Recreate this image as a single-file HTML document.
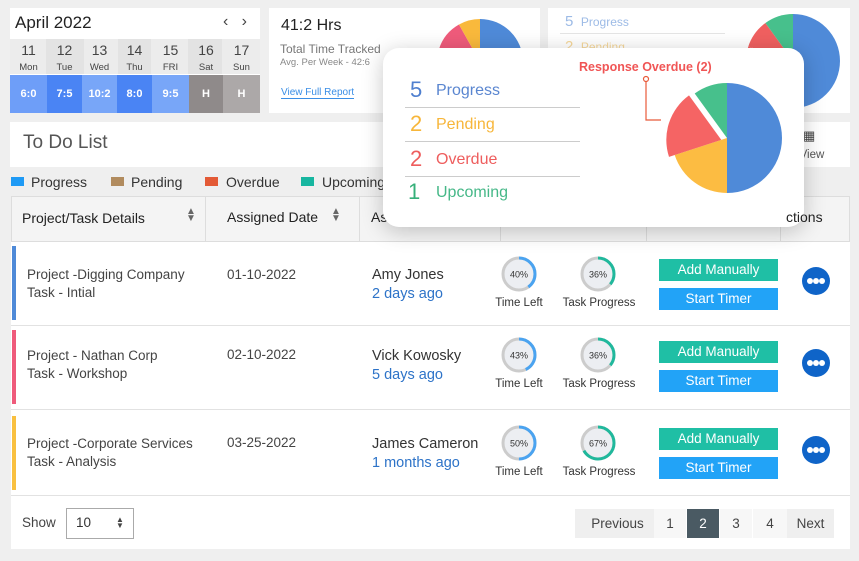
<!DOCTYPE html>
<html><head><meta charset="utf-8"><style>
*{box-sizing:border-box;margin:0;padding:0}
body{width:859px;height:561px;background:#efefef;font-family:"Liberation Sans",sans-serif;position:relative;overflow:hidden;color:#333}
.a{position:absolute}
.card{position:absolute;background:#fff}
.cell{position:absolute;text-align:center}
.btn{position:absolute;width:119px;height:22px;color:#fff;font-size:13.5px;text-align:center;line-height:22px}
.g{background:#1fbfa5}.b{background:#22a3f7}
.dots{position:absolute;width:28px;height:28px;border-radius:50%;background:#0f64c8}
.dots i{position:absolute;top:11px;width:6px;height:6px;border-radius:50%;background:#fff}
.lbl{position:absolute;font-size:11.5px;color:#333;text-align:center}
.row{position:absolute;left:11px;width:839px;border-bottom:1px solid #e2e2e2;background:#fff}
.t{font-size:13.5px;color:#444;line-height:18px}
</style></head><body>
<div class="card" style="left:10px;top:8px;width:250px;height:105px"></div>
<div class="a" style="left:15px;top:13px;font-size:17px;color:#222">April 2022</div>
<div class="a" style="left:223px;top:13px;font-size:16px;color:#444">‹&nbsp;&nbsp;&nbsp;›</div>
<div class="a" style="left:10px;top:39px;width:250px;height:35px;background:#ececec"></div>
<div class="a" style="left:46px;top:39px;width:38px;height:35px;background:#e3e3e3"></div>
<div class="a" style="left:118px;top:39px;width:33px;height:35px;background:#e3e3e3"></div>
<div class="a" style="left:188px;top:39px;width:34px;height:35px;background:#e3e3e3"></div>
<div id="days"></div>
<div class="card" style="left:269px;top:8px;width:271px;height:105px"></div>
<div class="a" style="left:281px;top:17px;font-size:16px;color:#222">41:2 Hrs</div>
<div class="a" style="left:280px;top:42px;font-size:12px;color:#777">Total Time Tracked</div>
<div class="a" style="left:280px;top:57px;font-size:9.5px;color:#888">Avg. Per Week - 42:6</div>
<div class="a" style="left:281px;top:87px;font-size:10px;color:#3a8ee6;border-bottom:1px solid #3a8ee6">View Full Report</div>
<svg class="a" style="left:430px;top:12px" width="100" height="100" viewBox="-50 -50 100 100">
<path d="M0 0 L0 -43 A43 43 0 0 1 0 43Z" fill="#4f8ad8"/>
<path d="M0 0 L0 43 A43 43 0 0 1 -41 -13Z" fill="#ef5b7b"/>
<path d="M0 0 L-41 -13 A43 43 0 0 1 -21 -37.5Z" fill="#ef5b7b"/>
<path d="M0 0 L-21 -37.5 A43 43 0 0 1 0 -43Z" fill="#f9b93c"/>
</svg>
<div class="card" style="left:548px;top:8px;width:302px;height:105px"></div>
<div class="a" style="left:565px;top:13px;font-size:15px;color:#9dbbe6">5 <span style="font-size:12px">&nbsp;Progress</span></div>
<div class="a" style="left:560px;top:33px;width:165px;border-top:1px solid #e5e5e5"></div>
<div class="a" style="left:565px;top:38px;font-size:15px;color:#f5d79a">2 <span style="font-size:12px">&nbsp;Pending</span></div>
<svg class="a" style="left:745px;top:13px" width="96" height="96" viewBox="-48 -48 96 96">
<path d="M0 0 L0 -47 A47 47 0 0 1 0 47Z" fill="#4f8ad8"/>
<path d="M0 0 L0 47 A47 47 0 0 1 -44.7 -14.5Z" fill="#f06060"/>
<path d="M0 0 L-44.7 -14.5 A47 47 0 0 1 -27.6 -38Z" fill="#f06060"/>
<path d="M0 0 L-27.6 -38 A47 47 0 0 1 0 -47Z" fill="#47c08c"/>
</svg>
<div class="card" style="left:10px;top:122px;width:840px;height:45px"></div>
<div class="a" style="left:23px;top:132px;font-size:19px;color:#555">To Do List</div>
<div class="a" style="left:803px;top:128px;font-size:13px;color:#444">▦</div>
<div class="a" style="left:790px;top:149px;font-size:11.5px;color:#555">n View</div>
<div class="a" style="left:11px;top:177px;width:13px;height:9px;background:#1e9af5"></div>
<div class="a" style="left:31px;top:174px;font-size:14px;color:#333">Progress</div>
<div class="a" style="left:111px;top:177px;width:13px;height:9px;background:#b18b5e"></div>
<div class="a" style="left:131px;top:174px;font-size:14px;color:#333">Pending</div>
<div class="a" style="left:205px;top:177px;width:13px;height:9px;background:#e35a36"></div>
<div class="a" style="left:226px;top:174px;font-size:14px;color:#333">Overdue</div>
<div class="a" style="left:301px;top:177px;width:13px;height:9px;background:#17b6a0"></div>
<div class="a" style="left:322px;top:174px;font-size:14px;color:#333">Upcoming</div>
<div class="a" style="left:11px;top:196px;width:839px;height:46px;background:#f4f4f4;border:1px solid #ddd"></div>
<div class="a" style="left:205px;top:196px;height:46px;border-left:1px solid #ddd"></div>
<div class="a" style="left:359px;top:196px;height:46px;border-left:1px solid #ddd"></div>
<div class="a" style="left:500px;top:196px;height:46px;border-left:1px solid #ddd"></div>
<div class="a" style="left:646px;top:196px;height:46px;border-left:1px solid #ddd"></div>
<div class="a" style="left:780px;top:196px;height:46px;border-left:1px solid #ddd"></div>
<div class="a" style="left:22px;top:210px;font-size:14px;color:#222">Project/Task Details</div>
<div class="a" style="left:186px;top:208px;font-size:10px;color:#666;line-height:7px">▲<br>▼</div>
<div class="a" style="left:227px;top:209px;font-size:14px;color:#222">Assigned Date</div>
<div class="a" style="left:331px;top:208px;font-size:10px;color:#666;line-height:7px">▲<br>▼</div>
<div class="a" style="left:371px;top:209px;font-size:14px;color:#222">As</div>
<div class="row" style="top:242px;height:84px"></div>
<div class="row" style="top:326px;height:84px"></div>
<div class="row" style="top:410px;height:86px"></div>
<div class="a" style="left:11px;top:496px;width:839px;height:53px;background:#fff"></div>
<div class="a" style="left:12px;top:246px;width:4px;height:74px;background:#4f8ad8"></div>
<div class="a" style="left:12px;top:330px;width:4px;height:74px;background:#ef5b7b"></div>
<div class="a" style="left:12px;top:416px;width:4px;height:74px;background:#f9c040"></div>
<div class="a t" style="left:27px;top:266px">Project -Digging Company<br>Task - Intial</div>
<div class="a t" style="left:227px;top:266px">01-10-2022</div>
<div class="a" style="left:372px;top:266px;font-size:14.5px;color:#333;line-height:19px">Amy Jones<br><span style="color:#2d73c8">2 days ago</span></div>
<div class="a t" style="left:27px;top:347px">Project - Nathan Corp<br>Task - Workshop</div>
<div class="a t" style="left:227px;top:346px">02-10-2022</div>
<div class="a" style="left:372px;top:347px;font-size:14.5px;color:#333;line-height:19px">Vick Kowosky<br><span style="color:#2d73c8">5 days ago</span></div>
<div class="a t" style="left:27px;top:435px">Project -Corporate Services<br>Task - Analysis</div>
<div class="a t" style="left:227px;top:434px">03-25-2022</div>
<div class="a" style="left:372px;top:435px;font-size:14.5px;color:#333;line-height:19px">James Cameron<br><span style="color:#2d73c8">1 months ago</span></div>
<div id="rings"></div>
<div class="a" style="left:22px;top:515px;font-size:13.5px;color:#444">Show</div>
<div class="a" style="left:66px;top:508px;width:68px;height:31px;border:1px solid #aaa;background:#fff"></div>
<div class="a" style="left:76px;top:515px;font-size:13.5px;color:#333">10</div>
<div class="a" style="left:116px;top:517px;font-size:8px;color:#444;line-height:6px">▲<br>▼</div>
<div class="a" style="left:575px;top:509px;width:85px;height:29px;background:#efefef;font-size:13.5px;color:#444;text-align:center;line-height:29px">Previous</div>
<div class="a" style="left:654px;top:509px;width:32px;height:29px;background:#f7f7f7;font-size:13.5px;color:#444;text-align:center;line-height:29px">1</div>
<div class="a" style="left:687px;top:509px;width:32px;height:29px;background:#4a5a63;font-size:13.5px;color:#fff;text-align:center;line-height:29px">2</div>
<div class="a" style="left:720px;top:509px;width:32px;height:29px;background:#f7f7f7;font-size:13.5px;color:#444;text-align:center;line-height:29px">3</div>
<div class="a" style="left:753px;top:509px;width:34px;height:29px;background:#f7f7f7;font-size:13.5px;color:#444;text-align:center;line-height:29px">4</div>
<div class="a" style="left:787px;top:509px;width:47px;height:29px;background:#efefef;font-size:13.5px;color:#444;text-align:center;line-height:29px">Next</div>
<div class="a" style="left:383px;top:48px;width:421px;height:179px;background:#fff;border-radius:16px;box-shadow:0 4px 22px rgba(0,0,0,.22)"></div>
<div class="a" style="left:786px;top:209px;font-size:14px;color:#222;z-index:5">ctions</div>
<div class="a" style="left:410px;top:77px;font-size:22px;color:#4f7fcf">5</div>
<div class="a" style="left:436px;top:82px;font-size:16px;color:#5a86d0">Progress</div>
<div class="a" style="left:405px;top:107px;width:175px;border-top:1px solid #ccc"></div>
<div class="a" style="left:410px;top:111px;font-size:22px;color:#f7b63a">2</div>
<div class="a" style="left:436px;top:116px;font-size:16px;color:#f7b63a">Pending</div>
<div class="a" style="left:405px;top:141px;width:175px;border-top:1px solid #ccc"></div>
<div class="a" style="left:410px;top:146px;font-size:22px;color:#ee5d5d">2</div>
<div class="a" style="left:436px;top:151px;font-size:16px;color:#ee5d5d">Overdue</div>
<div class="a" style="left:405px;top:176px;width:175px;border-top:1px solid #ccc"></div>
<div class="a" style="left:408px;top:179px;font-size:22px;color:#36b07a">1</div>
<div class="a" style="left:436px;top:184px;font-size:16px;color:#46b888">Upcoming</div>
<div class="a" style="left:579px;top:60px;font-size:12.5px;color:#f05555;font-weight:bold">Response Overdue (2)</div>
<svg class="a" style="left:640px;top:70px" width="160" height="140" viewBox="0 0 160 140">
<circle cx="6" cy="9" r="2.5" fill="none" stroke="#e85a3a" stroke-width="1.2"/>
<polyline points="6,11 6,50 21,50" fill="none" stroke="#e85a3a" stroke-width="1.2"/>
<path d="M87 68 L87 13 A55 55 0 0 1 87 123Z" fill="#4f8ad8"/>
<path d="M87 68 L87 123 A55 55 0 0 1 34.7 85Z" fill="#fcbc42"/>
<path d="M81.3 69.9 L29 86.9 A55 55 0 0 1 49 25.4Z" fill="#f56464"/>
<path d="M87 68 L54.7 23.5 A55 55 0 0 1 87 13Z" fill="#47c08c"/>
</svg>
<script>
var d=[["11","Mon"],["12","Tue"],["13","Wed"],["14","Thu"],["15","FRI"],["16","Sat"],["17","Sun"]];
var h=[["6:0","#6e9ef8"],["7:5","#4a84f4"],["10:2","#78a6f8"],["8:0","#4a84f4"],["9:5","#78a6f8"],["H","#8f8a8a"],["H","#aca8a8"]];
var xs=[10,47,82,117,152,189,223,260],s="";
for(var i=0;i<7;i++){var w=xs[i+1]-xs[i];
s+='<div class="cell" style="left:'+xs[i]+'px;top:43px;width:'+w+'px;font-size:14px;color:#444;line-height:15px">'+d[i][0]+'<br><span style="font-size:9.5px">'+d[i][1]+'</span></div>';
s+='<div class="cell" style="left:'+xs[i]+'px;top:75px;width:'+w+'px;height:38px;background:'+h[i][1]+';color:#fff;font-weight:bold;font-size:11px;line-height:38px">'+h[i][0]+'</div>';}
document.getElementById("days").innerHTML=s;
var r=[[274,40,36,"#4aa3f0","#20b89c"],[355,43,36,"#4aa3f0","#20b89c"],[443,50,67,"#4aa3f0","#20b89c"]],q="";
function ring(cx,cy,p,c){var C=2*Math.PI*16;return '<svg class="a" style="left:'+(cx-18)+'px;top:'+(cy-18)+'px" width="36" height="36"><circle cx="18" cy="18" r="16" fill="#eceef2" stroke="#ccc" stroke-width="3"/><circle cx="18" cy="18" r="16" fill="none" stroke="'+c+'" stroke-width="3" stroke-dasharray="'+(C*p/100)+' '+C+'" transform="rotate(-90 18 18)"/><text x="18" y="21.5" font-size="9" text-anchor="middle" fill="#333" font-family="Liberation Sans">'+p+'%</text></svg>';}
for(var k=0;k<3;k++){var y=r[k][0];
q+=ring(519,y,r[k][1],r[k][3]);q+=ring(598,y,r[k][2],r[k][4]);
q+='<div class="lbl" style="left:488px;top:'+(y+23)+'px;width:62px">Time Left</div><div class="lbl" style="left:553px;top:'+(y+23)+'px;width:92px">Task Progress</div>';
var by=[259,341,428][k];
q+='<div class="btn g" style="left:659px;top:'+by+'px">Add Manually</div><div class="btn b" style="left:659px;top:'+(by+29)+'px">Start Timer</div>';
q+='<div class="dots" style="left:802px;top:'+(by+8)+'px"><i style="left:5px"></i><i style="left:11px"></i><i style="left:17px"></i></div>';}
document.getElementById("rings").innerHTML=q;
</script>
</body></html>
